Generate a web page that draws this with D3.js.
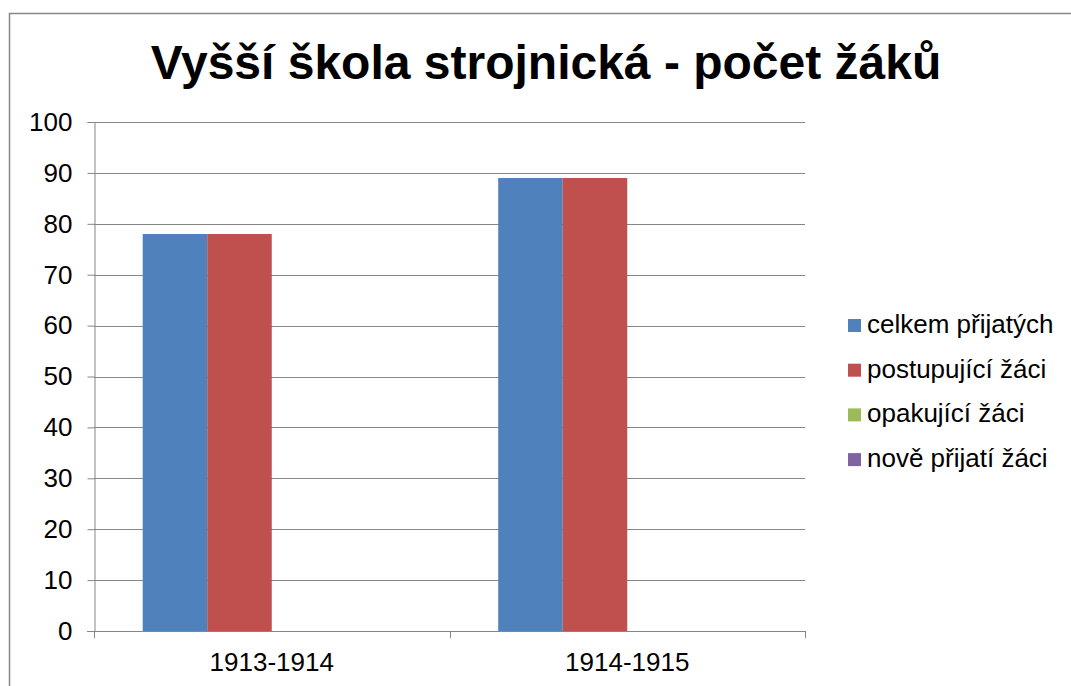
<!DOCTYPE html>
<html><head><meta charset="utf-8">
<script src="https://cdn.jsdelivr.net/npm/d3@7"></script>
<style>body{margin:0;background:#fff}svg{display:block;font-family:"Liberation Sans",Arial,sans-serif}</style>
</head><body>
<script>
const title = "Vyšší škola strojnická - počet žáků";
const categories = ["1913-1914", "1914-1915"];
const seriesNames = ["celkem přijatých", "postupující žáci", "opakující žáci", "nově přijatí žáci"];
const seriesColors = ["#4F81BD", "#C0504D", "#9BBB59", "#8064A2"];
const celkem = [78, 89];
const postupujici = [78, 89];
const opakujici = [0, 0];
const nove = [0, 0];
const yTicks = [0, 10, 20, 30, 40, 50, 60, 70, 80, 90, 100];
const seriesValues = [celkem, postupujici, opakujici, nove];

const W = 1071, H = 686;
const FONT = "Liberation Sans, Arial, sans-serif";
const svg = d3.select("body").append("svg").attr("width", W).attr("height", H);
svg.append("rect").attr("x", 9.5).attr("y", 13.5).attr("width", W).attr("height", H)
  .attr("fill", "none").attr("stroke", "#878787").attr("stroke-width", 1.5);

svg.append("text").attr("x", 546).attr("y", 79).attr("text-anchor", "middle")
  .attr("font-size", 48).attr("font-weight", "bold").attr("fill", "#000").text(title);

const L = 94, R = 805, T = 122, B = 631;
const x0 = d3.scaleBand().domain(categories).range([L, R]).paddingInner(0.274).paddingOuter(0.137);
const x1 = d3.scaleBand().domain(seriesNames).range([0, x0.bandwidth()]);
const y = d3.scaleLinear().domain([0, 100]).range([B, T]);

// gridlines
svg.append("g").selectAll("line").data(yTicks.filter(d => d > 0)).join("line")
  .attr("x1", L).attr("x2", R).attr("y1", d => Math.round(y(d)) + 0.5).attr("y2", d => Math.round(y(d)) + 0.5)
  .attr("stroke", "#868686").attr("stroke-width", 1);

// y axis
const yAxis = svg.append("g").attr("transform", `translate(${L + 0.5},0)`)
  .call(d3.axisLeft(y).tickValues(yTicks).tickSize(7).tickPadding(15).tickFormat(d3.format("d")));
yAxis.attr("font-size", 26).attr("font-family", FONT);
yAxis.select(".domain").attr("stroke", "#868686");
yAxis.selectAll(".tick line").attr("stroke", "#868686");
yAxis.selectAll("text").attr("font-size", 26).attr("fill", "#000");

// bars
const groups = svg.append("g").selectAll("g").data(categories).join("g")
  .attr("transform", d => `translate(${x0(d)},0)`);
groups.selectAll("rect").data((c, i) => seriesNames.map((s, j) => ({s, v: seriesValues[j][i], color: seriesColors[j]})))
  .join("rect")
  .attr("x", d => x1(d.s)).attr("width", x1.bandwidth())
  .attr("y", d => y(d.v)).attr("height", d => y(0) - y(d.v))
  .attr("fill", d => d.color);

// x axis
const xStep = (R - L) / categories.length;
const xAxisG = svg.append("g");
xAxisG.append("line").attr("x1", L - 7).attr("x2", R).attr("y1", B + 0.5).attr("y2", B + 0.5).attr("stroke", "#868686");
xAxisG.selectAll("line.t").data(d3.range(categories.length + 1)).join("line").attr("class", "t")
  .attr("x1", i => Math.round(L + i * xStep) + 0.5).attr("x2", i => Math.round(L + i * xStep) + 0.5)
  .attr("y1", B).attr("y2", B + 7).attr("stroke", "#868686");
xAxisG.selectAll("text").data(categories).join("text")
  .attr("x", d => x0(d) + x0.bandwidth() / 2).attr("y", 671).attr("text-anchor", "middle")
  .attr("font-size", 26).attr("fill", "#000").text(d => d);

// legend
const leg = svg.append("g").selectAll("g").data(seriesNames).join("g")
  .attr("transform", (d, i) => `translate(848,${333 + i * 44.7})`);
leg.append("rect").attr("x", 0).attr("y", -14).attr("width", 13).attr("height", 13)
  .attr("fill", (d, i) => seriesColors[i]);
leg.append("text").attr("x", 19).attr("y", 0).attr("font-size", 26).attr("fill", "#000").text(d => d);
</script>
</body></html>
